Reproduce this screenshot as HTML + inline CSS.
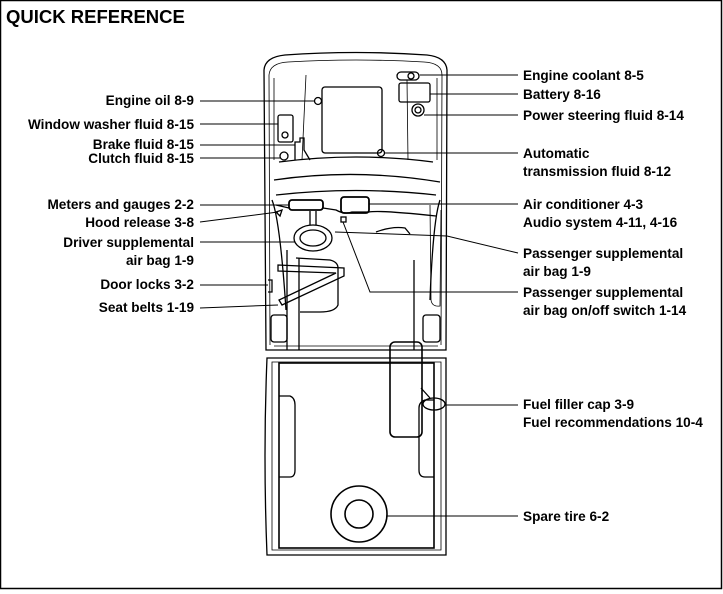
<!DOCTYPE html>
<html><head><meta charset="utf-8"><style>
html,body{margin:0;padding:0;background:#fff}
svg{display:block}
text{font-family:"Liberation Sans",Arial,sans-serif;font-weight:bold;font-size:13.6px;fill:#000}
</style></head><body>
<svg width="723" height="594" viewBox="0 0 723 594" xmlns="http://www.w3.org/2000/svg">
<rect x="0.5" y="0.5" width="721" height="588" fill="none" stroke="#000" stroke-width="1.5"/>
<text x="6" y="23" style="font-size:18.5px">QUICK REFERENCE</text>
<g fill="none" stroke="#000" stroke-width="1.3">
<path d="M266,350 L264,70 Q265,57 285,55 Q356,50 427,55 Q446,57 447,70 L446,350 Z"/>
<path d="M270,345 L269,75 Q270,63 288,62 Q356,58 424,62 Q442,63 442,75 L441,345" stroke-width="0.8"/>
<path d="M274,160 L274,78 M437,160 L437,78" stroke-width="0.8"/>
<path d="M279,162 Q356,152 433,162" />
<path d="M274,180 Q356,168 440,182" />
<rect x="322" y="87" width="60" height="66" rx="3"/>
<path d="M306,75 L302,160 M407,80 L408,160" stroke-width="0.8"/>
<rect x="397" y="72" width="22" height="8" rx="4"/>
<circle cx="411" cy="76" r="3"/>
<rect x="399" y="83" width="31" height="19" rx="2"/>
<circle cx="418" cy="110" r="6"/><circle cx="418" cy="110" r="3"/>
<rect x="278" y="115" width="15" height="27" rx="2"/>
<circle cx="285" cy="135" r="3"/>
<path d="M295,160 L295,142 L300,142 L300,138 L304,138 L304,150 L310,160"/>
<circle cx="284" cy="156" r="4"/>
<circle cx="318" cy="101" r="3.5"/>
<circle cx="381" cy="153" r="3.5"/>
<path d="M276,195 Q356,186 436,195 M276,205 L289,208 M323,208 L336,210 Q345,215 352,212 L369,212 Q380,210 436,216"/>
<rect x="289" y="200" width="34" height="10" rx="3" stroke-width="1.8"/>
<rect x="341" y="197" width="28" height="16" rx="3" stroke-width="1.8"/>
<rect x="341" y="217" width="5" height="5"/>
<path d="M276,212 L282,210 L280,216 Z"/>
<path d="M272,200 Q280,220 286,310 M440,200 Q433,220 430,300"/>
<path d="M430,205 L431,300 Q432,307 440,306 L441,210" stroke-width="0.8"/>
<ellipse cx="313" cy="238" rx="19" ry="13"/>
<ellipse cx="313" cy="238" rx="13" ry="8"/>
<path d="M310,211 L310,225 M316,211 L316,225"/>
<path d="M376,232 Q392,226 405,228 L410,234"/>
<path d="M414,260 L414,350" />
<path d="M296,258 L330,260 Q338,262 338,268 L338,305 Q335,312 320,312 L300,312"/>
<path d="M278,265 L344,268 L344,276 L282,305 L279,300 L336,273 L278,271 Z"/>
<path d="M287,250 L287,350 M299,258 L299,350"/>
<path d="M268,280 L272,280 L272,292 L268,292"/>
<rect x="271" y="315" width="16" height="27" rx="3"/>
<rect x="423" y="315" width="17" height="27" rx="3"/>
<path d="M274,346 L438,346" stroke-width="0.8"/>
<path d="M267,358 L446,358 L446,555 L267,555 Q263,455 267,358 Z"/>
<path d="M272,362 L441,362 L441,550 L272,550 Z" stroke-width="0.8"/>
<rect x="279" y="363" width="155" height="185" stroke-width="1.6"/>
<path d="M279,396 L290,396 Q295,398 295,405 L295,470 Q295,477 290,477 L279,477"/>
<path d="M434,400 L425,400 Q419,402 419,408 L419,470 Q419,477 425,477 L434,477"/>
<rect x="390" y="342" width="32" height="95" rx="5" stroke-width="1.6"/>
<ellipse cx="434" cy="404" rx="11" ry="6"/>
<path d="M421,388 L430,398"/>
<circle cx="359" cy="514" r="28" stroke-width="1.6"/>
<circle cx="359" cy="514" r="14" stroke-width="1.6"/>
<g stroke-width="1">
<path d="M420,75 L518,75 M430,94 L518,94 M424,115 L518,115 M385,153 L518,153 M369,204 L518,204"/>
<path d="M518,253 L447,236 L335,232"/>
<path d="M518,292 L370,292 L343,222"/>
<path d="M445,405 L518,405 M387,516 L518,516"/>
<path d="M200,101 L314,101 M200,124 L278,124 M200,145 L295,145 M200,158 L280,158 M200,205 L289,205"/>
<path d="M200,222 L278,212 M200,242 L295,242 M200,285 L268,285 M200,308 L278,305"/>
</g>
</g>
<g text-anchor="end">
<text x="194" y="105">Engine oil 8-9</text>
<text x="194" y="129">Window washer fluid 8-15</text>
<text x="194" y="149">Brake fluid 8-15</text>
<text x="194" y="163">Clutch fluid 8-15</text>
<text x="194" y="209">Meters and gauges 2-2</text>
<text x="194" y="227">Hood release 3-8</text>
<text x="194" y="247">Driver supplemental</text>
<text x="194" y="265">air bag 1-9</text>
<text x="194" y="289">Door locks 3-2</text>
<text x="194" y="312">Seat belts 1-19</text>
</g>
<g>
<text x="523" y="80">Engine coolant 8-5</text>
<text x="523" y="99">Battery 8-16</text>
<text x="523" y="120">Power steering fluid 8-14</text>
<text x="523" y="158">Automatic</text>
<text x="523" y="176">transmission fluid 8-12</text>
<text x="523" y="209">Air conditioner 4-3</text>
<text x="523" y="227">Audio system 4-11, 4-16</text>
<text x="523" y="258">Passenger supplemental</text>
<text x="523" y="276">air bag 1-9</text>
<text x="523" y="297">Passenger supplemental</text>
<text x="523" y="315">air bag on/off switch 1-14</text>
<text x="523" y="409">Fuel filler cap 3-9</text>
<text x="523" y="427">Fuel recommendations 10-4</text>
<text x="523" y="521">Spare tire 6-2</text>
</g>
</svg>
</body></html>
